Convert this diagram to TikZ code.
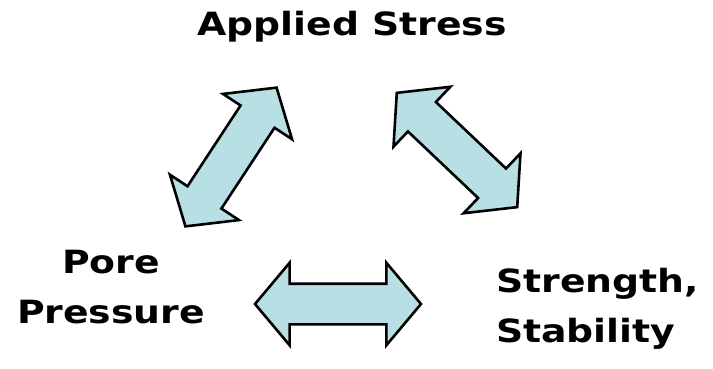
\documentclass[tikz,border=0pt]{standalone}
\usepackage{fontspec}
\setsansfont{DejaVu Sans}[FakeStretch=1.18]
\usetikzlibrary{shapes.arrows}
\definecolor{arrowfill}{RGB}{184,224,228}
\tikzset{
  termtext/.style={font=\sffamily\bfseries\fontsize{32}{50}\selectfont, inner sep=0pt},
  blockarrow/.style={double arrow, draw=black, line width=2.6pt, fill=arrowfill,
    minimum height=166pt, minimum width=80pt, inner xsep=0pt, inner ysep=19pt,
    double arrow head extend=21pt, double arrow tip angle=100}
}
\begin{document}
\begin{tikzpicture}[x=1pt,y=-1pt]
  \useasboundingbox (0,0) rectangle (713,368);
  % the three quantities
  \node[termtext] (stress) at (352,27) {Applied Stress};
  \node[termtext, align=center] (pore) at (111,287) {Pore\\Pressure};
  \node[termtext, align=left, anchor=west] (strength) at (496,309) {Strength,\\Stability};
  % coupling arrows
  \node[blockarrow, rotate=56.7] (stresspore) at (231,157) {};
  \node[blockarrow, rotate=-43.5] (stressstrength) at (457,150) {};
  \node[blockarrow] (porestrength) at (338,304) {};
\end{tikzpicture}
\end{document}
